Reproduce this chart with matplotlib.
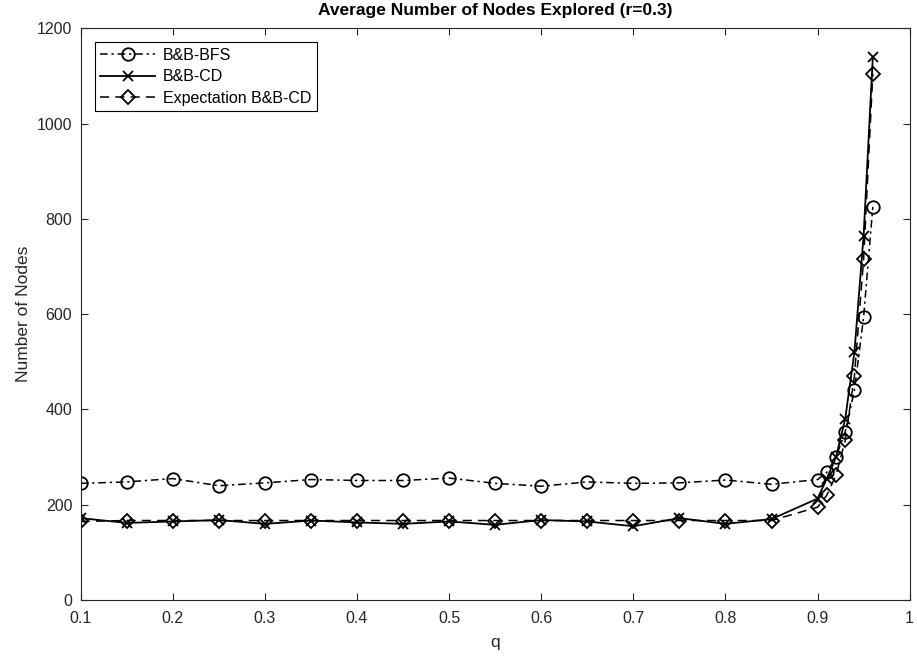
import numpy as np
import matplotlib.pyplot as plt

plt.rcParams['font.family'] = ['Liberation Sans', 'DejaVu Sans']

q = [0.1, 0.15, 0.2, 0.25, 0.3, 0.35, 0.4, 0.45, 0.5, 0.55, 0.6, 0.65, 0.7,
     0.75, 0.8, 0.85, 0.9, 0.91, 0.92, 0.93, 0.94, 0.95, 0.96]
bfs = [245, 248, 255, 240, 246, 253, 251, 251, 256, 245, 239, 248, 245,
       246, 252, 243, 253, 268, 300, 353, 440, 594, 825]
cd = [172, 162, 165, 168, 160, 167, 163, 160, 165, 158, 168, 165, 155,
      172, 160, 170, 213, 255, 300, 380, 520, 765, 1140]
exp_cd = [165, 167, 167, 167, 167, 167, 167, 167, 167, 167, 167, 167, 167,
          167, 167, 167, 195, 220, 262, 335, 470, 715, 1105]

xticks = [0.1, 0.2, 0.3, 0.4, 0.5, 0.6, 0.7, 0.8, 0.9, 1.0]
xticklabels = ['0.1', '0.2', '0.3', '0.4', '0.5', '0.6', '0.7', '0.8', '0.9', '1']
yticks = [0, 200, 400, 600, 800, 1000, 1200]

fig = plt.figure(figsize=(9.17, 6.58), dpi=100)
ax = fig.add_axes([0.088, 0.088, 0.904, 0.869])

ax.plot(q, bfs, color='k', lw=1.1, dashes=[5, 2.5, 1.5, 2.5], marker='o', ms=9,
        mfc='none', mew=1.3, label='B&B-BFS')
ax.plot(q, cd, '-', color='k', lw=1.3, marker='x', ms=7, mew=1.3, label='B&B-CD')
ax.plot(q, exp_cd, color='k', lw=1.1, dashes=[6, 4], marker='D', ms=7.5,
        mfc='none', mew=1.3, label='Expectation B&B-CD')

ax.set_xlim(0.1, 1)
ax.set_ylim(0, 1200)
ax.set_xticks(xticks)
ax.set_xticklabels(xticklabels)
ax.set_yticks(yticks)

gray = '#262626'
for s in ax.spines.values():
    s.set_color(gray)
    s.set_linewidth(0.8)
ax.tick_params(direction='in', length=5, width=0.8, colors=gray, labelsize=11.5,
               top=True, right=True)
ax.tick_params(axis='x', pad=8)
ax.tick_params(axis='y', pad=6)

ax.set_xlabel('q', fontsize=12.5, color=gray, labelpad=6)
ax.set_ylabel('Number of Nodes', fontsize=12.5, color=gray)
fig.text(0.54, 1 - 10 / 658, 'Average Number of Nodes Explored (r=0.3)',
         fontsize=12.5, fontweight='bold', ha='center', va='center')

leg = ax.legend(loc='upper left', bbox_to_anchor=(0.017, 0.9755), fontsize=11.5,
                fancybox=False, edgecolor='k', framealpha=1, handlelength=3.4,
                borderpad=0.35, labelspacing=0.4, handletextpad=0.5,
                borderaxespad=0)
leg.get_frame().set_linewidth(0.8)

fig.savefig('out.png', dpi=100)
